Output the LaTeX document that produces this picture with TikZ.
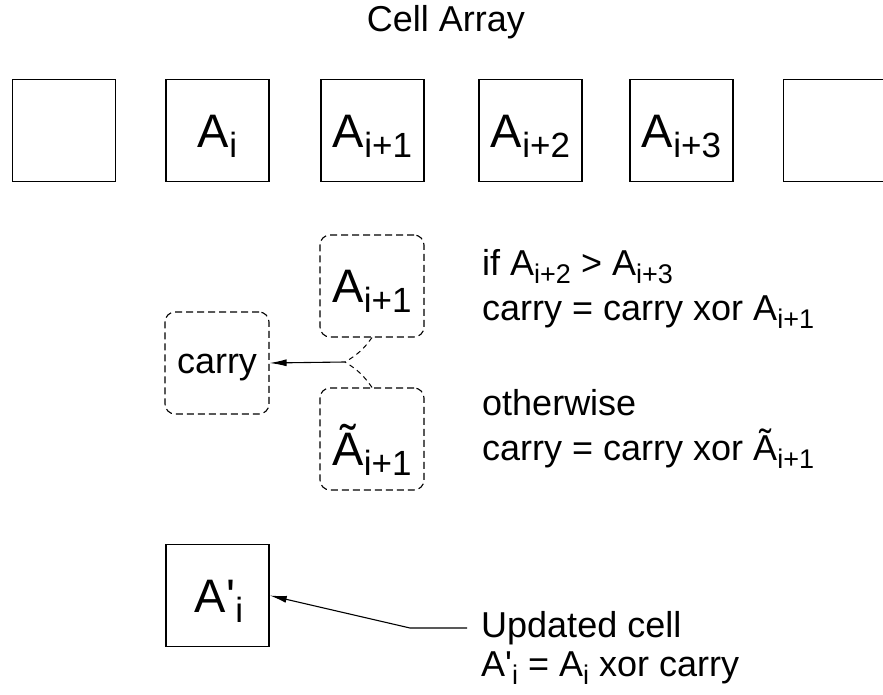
\documentclass[tikz,border=0pt]{standalone}
\usepackage{fontspec}
\newfontfamily\arial{Liberation Sans}
\usetikzlibrary{arrows.meta}
% subscripts for the large cell labels and for the running text
\newcommand\bsub[1]{\raisebox{-10pt}{\fontsize{35}{35}\selectfont #1}}
\newcommand\tsub[1]{\raisebox{-8pt}{\fontsize{27}{27}\selectfont #1}}
\tikzset{
  cell/.style={draw=black, line width=1.5pt, minimum width=103pt, minimum height=102pt, inner sep=0pt},
  dcell/.style={draw=black, line width=1.1pt, dash pattern=on 7pt off 4pt, rounded corners=10pt,
    minimum width=104pt, minimum height=102pt, inner sep=0pt},
  big/.style={font=\arial\fontsize{47}{50}\selectfont, inner sep=0pt},
  txt/.style={font=\arial\fontsize{36}{40}\selectfont, inner sep=0pt, anchor=base west},
  arr/.style={line width=1.1pt, -{Latex[length=17pt,width=7pt]}},
}
\begin{document}
\begin{tikzpicture}[x=1pt, y=-1pt]
\useasboundingbox (0,0) rectangle (883,695);
\clip (0,0) rectangle (883,695);

% title
\node[txt, anchor=base] (title) at (446,32) {Cell Array};

% the cell array
\node[cell] (c0) at (64,130.5) {};
\node[cell] (c1) at (217.5,130.5) {};
\node[cell] (c2) at (372.5,130.5) {};
\node[cell] (c3) at (530.5,130.5) {};
\node[cell] (c4) at (681.5,130.5) {};
\node[cell] (c5) at (835,130.5) {};
\node[big, anchor=base] (l1) at (217.5,148) {A\bsub{i}};
\node[big, anchor=base] (l2) at (372.5,148) {A\bsub{i+1}};
\node[big, anchor=base] (l3) at (530.5,148) {A\bsub{i+2}};
\node[big, anchor=base] (l4) at (681.5,148) {A\bsub{i+3}};

% candidate values for the carry
\node[dcell] (aup) at (372,286) {};
\node[big, anchor=base] (aupl) at (372,302) {A\bsub{i+1}};
\node[dcell] (adn) at (372,439) {};
\node[big, anchor=base] (adnl) at (372,465) {Ã\bsub{i+1}};
\node[dcell] (carry) at (217,363) {};
\node[txt, anchor=base] (carryl) at (217,373) {carry};

\coordinate (fork) at (345,362);
\draw[line width=1pt, dash pattern=on 5pt off 4pt] (aup.south) to[bend left=12] (fork);
\draw[line width=1pt, dash pattern=on 5pt off 4pt] (adn.north) to[bend right=12] (fork);
\draw[arr] (fork) -- (carry.east);

% conditions
\node[txt] (if) at (482,275) {if A\tsub{i+2} > A\tsub{i+3}};
\node[txt] (then) at (482,320) {carry = carry xor A\tsub{i+1}};
\node[txt] (else) at (482,415) {otherwise};
\node[txt] (elsev) at (482,460) {carry = carry xor Ã\tsub{i+1}};

% updated cell
\node[cell] (newc) at (217.5,595.5) {};
\node[big, anchor=base] (newl) at (219,612) {A'\bsub{i}};
\coordinate (lead) at (467,628);
\coordinate (knee) at (410,628);
\draw[arr] (lead) -- (knee) -- (newc.east);
\node[txt] (upd) at (481,637) {Updated cell};
\node[txt] (updf) at (481,676) {A'\tsub{i} = A\tsub{i} xor carry};
\end{tikzpicture}
\end{document}
